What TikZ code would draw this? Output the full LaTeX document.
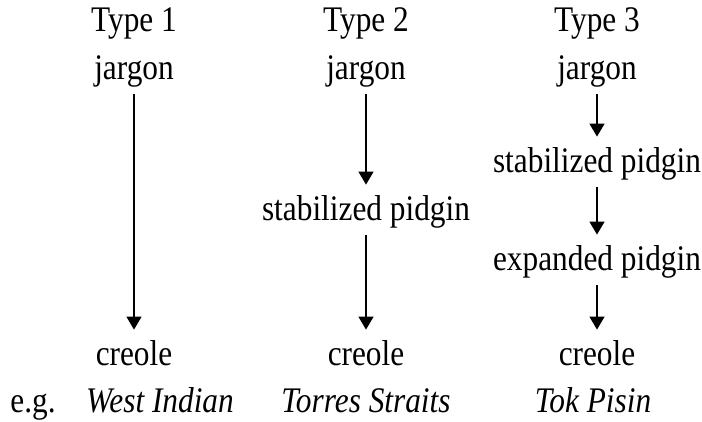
\documentclass[tikz,border=0pt]{standalone}
\usepackage{fontspec}
\setmainfont{Liberation Serif}[FakeStretch=0.87]
\usetikzlibrary{arrows.meta}
\begin{document}
\begin{tikzpicture}[
			x=0.5pt, y=-0.5pt,
			every node/.style={font=\fontsize{18}{21}\selectfont, anchor=base, inner xsep=0pt, inner ysep=3pt, text height=12pt, text depth=3.8pt},
			ex/.style={font=\fontsize{18}{21}\selectfont\itshape},
			arr/.style={line width=0.7pt, -{Triangle[length=6.5pt,width=7.5pt]}, shorten >=3pt}
		]
		\useasboundingbox (0,0) rectangle (702,422);
		% headings
		\node (t1) at (134,32) {Type 1};
		\node (t2) at (366,32) {Type 2};
		\node (t3) at (597,32) {Type 3};
		% starting point
		\node (j1) at (134,80) {jargon};
		\node (j2) at (366,80) {jargon};
		\node (j3) at (597,80) {jargon};
		% intermediate stages
		\node (s2) at (366,221) {stabilized pidgin};
		\node (s3) at (597,173) {stabilized pidgin};
		\node (e3) at (597,271) {expanded pidgin};
		% end point
		\node (c1) at (134,366) {creole};
		\node (c2) at (366,366) {creole};
		\node (c3) at (597,366) {creole};
		% examples
		\node (eg) at (33,413) {e.g.};
		\node[ex] (w1) at (160,413) {West Indian};
		\node[ex] (w2) at (366,413) {Torres Straits};
		\node[ex] (w3) at (593,413) {Tok Pisin};
		% arrows
		\draw[arr] (j1) -- (c1);
		\draw[arr] (j2) -- (s2);
		\draw[arr] (s2) -- (c2);
		\draw[arr] (j3) -- (s3);
		\draw[arr] (s3) -- (e3);
		\draw[arr] (e3) -- (c3);
	\end{tikzpicture}
\end{document}
